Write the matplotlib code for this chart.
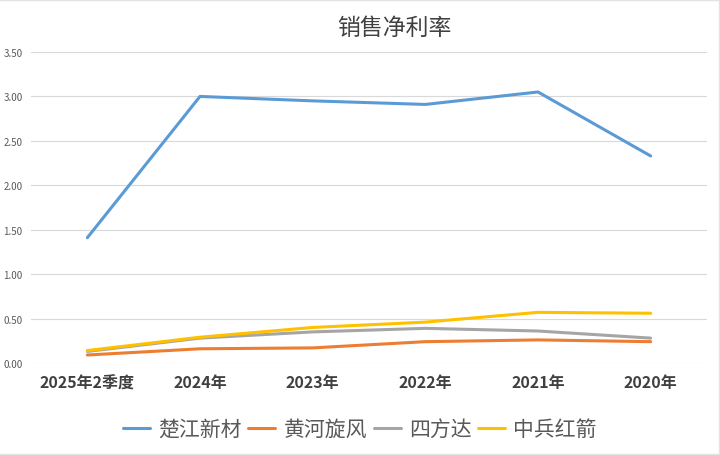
import matplotlib
matplotlib.use("Agg")
import matplotlib.pyplot as plt
from matplotlib.ticker import FormatStrFormatter
from matplotlib.lines import Line2D

plt.rcParams['font.family'] = ['Noto Sans CJK SC', 'DejaVu Sans']

categories = ["2025年2季度", "2024年", "2023年", "2022年", "2021年", "2020年"]
chujiang = [1.41, 3.00, 2.95, 2.91, 3.05, 2.33]
huanghe = [0.09, 0.16, 0.17, 0.24, 0.26, 0.24]
sifangda = [0.13, 0.28, 0.35, 0.39, 0.36, 0.28]
zhongbing = [0.14, 0.29, 0.40, 0.46, 0.57, 0.56]
series_names = ["楚江新材", "黄河旋风", "四方达", "中兵红箭"]
colors = ["#5B9BD5", "#ED7D31", "#A5A5A5", "#FFC000"]
yticks = [0.0, 0.5, 1.0, 1.5, 2.0, 2.5, 3.0, 3.5]

fig = plt.figure(figsize=(7.2, 4.56), dpi=100)
ax = fig.add_axes([31/720, 1 - 364/456, (707 - 31)/720, (364 - 53)/456])

x = list(range(len(categories)))
for vals, name, c in zip([chujiang, huanghe, sifangda, zhongbing], series_names, colors):
    ax.plot(x, vals, color=c, lw=2.2, label=name, solid_capstyle='round', solid_joinstyle='round')

ax.set_xlim(-0.5, len(categories) - 0.5)
ax.set_ylim(0, 3.5)
ax.set_yticks(yticks)
ax.yaxis.set_major_formatter(FormatStrFormatter('%.2f'))
ax.grid(axis='y', color='#D9D9D9', lw=0.8)
ax.set_axisbelow(True)
for s in ax.spines.values():
    s.set_visible(False)
ax.tick_params(axis='both', length=0)
ax.tick_params(axis='y', labelsize=7, labelcolor='#595959', pad=6)
ax.set_xticks(x)
ax.set_xticklabels(categories, fontsize=11.5, fontweight='bold', color='#404040')
ax.tick_params(axis='x', pad=8)

fig.text(394/720, 1 - 28/456, "销售净利率", ha='center', va='center', fontsize=16.5, color='#404040')

handles, labels = ax.get_legend_handles_labels()
fig.legend(handles, labels, loc='center', bbox_to_anchor=(360/720, 1 - 430/456), ncol=4,
           frameon=False, fontsize=15, handlelength=1.3, handletextpad=0.4, columnspacing=0.3,
           labelcolor='#595959')

# faint chart-area outline (top, right, bottom)
fig.lines.append(Line2D([0, 718.5/720, 718.5/720, 0], [1 - 0.5/456, 1 - 0.5/456, 1.5/456, 1.5/456],
                        transform=fig.transFigure, color='#E3E3E3', lw=1))

fig.savefig("out.png", dpi=100)
